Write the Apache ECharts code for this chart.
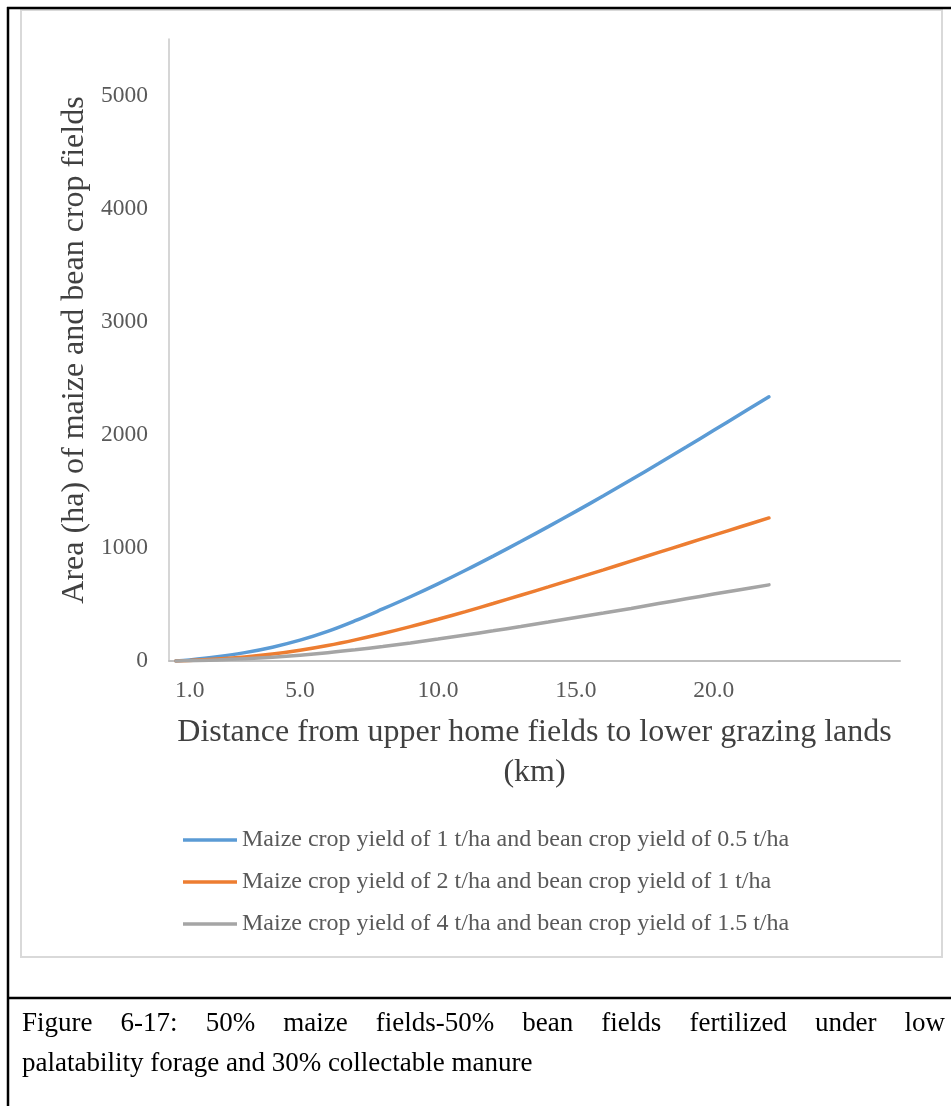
<!DOCTYPE html>
<html>
<head>
<meta charset="utf-8">
<script src="https://cdn.jsdelivr.net/npm/echarts@6/dist/echarts.min.js"></script>
<style>
html,body{margin:0;padding:0;background:#fff;}
#chart{width:951px;height:1106px;}
</style>
</head>
<body>
<div id="chart"></div>
<script>
// ---- data ----
const distances = [0.5,1,2,3,4,5,6,7,8,9,10,11,12,13,14,15,16,17,18,19,20,21,22];
const yieldLow  = [0,10,38,74,122,184,262,356,460,568,682,802,927,1056,1188,1323,1461,1602,1746,1892,2040,2188,2336];
const yieldMid  = [0,5,17,35,61,95,137,187,243,304,369,437,508,581,655,730,806,883,960,1037,1113,1189,1265];
const yieldHigh = [0,3,9,19,33,51,73,99,128,160,194,230,267,305,344,384,424,465,508,550,592,633,673];
const seriesNames = [
  'Maize crop yield of 1 t/ha and bean crop yield of 0.5 t/ha',
  'Maize crop yield of 2 t/ha and bean crop yield of 1 t/ha',
  'Maize crop yield of 4 t/ha and bean crop yield of 1.5 t/ha'
];
const xTickLabels = [1, 5, 10, 15, 20];
const yTickLabels = [0, 1000, 2000, 3000, 4000, 5000];
const xAxisTitle = 'Distance from upper home fields to lower grazing lands\n(km)';
const yAxisTitle = 'Area (ha) of maize and bean crop fields';
const captionLine1 = 'Figure 6-17: 50% maize fields-50% bean fields fertilized under low';
const captionLine2 = 'palatability forage and 30% collectable manure';

const FONT = '"Liberation Serif","Times New Roman",serif';
const colors = ['#5B9BD5', '#ED7D31', '#A5A5A5'];

function pairs(ys){ return distances.map((d,i)=>[d, ys[i]]); }

// caption layout (justified first line)
const capSize = 27;
const capLeft = 22, capRight = 945;
const cv = document.createElement('canvas').getContext('2d');
cv.font = capSize + 'px ' + FONT;
const words = captionLine1.split(' ');
const widths = words.map(w => cv.measureText(w).width);
const totalW = widths.reduce((a,b)=>a+b,0);
const gap = (capRight - capLeft - totalW) / (words.length - 1);
const captionEls = [];
let cx = capLeft;
words.forEach((w,i)=>{
  captionEls.push({type:'text', x: cx, y: 1024, z: 10,
    style:{text:w, font: capSize+'px '+FONT, fill:'#000', textAlign:'left', textVerticalAlign:'middle', verticalAlign:'middle'}});
  cx += widths[i] + gap;
});
captionEls.push({type:'text', x: capLeft, y: 1064, z: 10,
  style:{text:captionLine2, font: capSize+'px '+FONT, fill:'#000', textAlign:'left', textVerticalAlign:'middle', verticalAlign:'middle'}});

const chart = echarts.init(document.getElementById('chart'), null, {renderer:'canvas'});
chart.setOption({
  backgroundColor:'#fff',
  animation:false,
  color: colors,
  grid:{left:169, top:39, right:51, bottom:445, containLabel:false},
  xAxis:{
    type:'value', min:0.25, max:26.75, interval:0.25,
    name: xAxisTitle, nameLocation:'middle', nameGap:52,
    nameTextStyle:{fontFamily:FONT, fontSize:32, color:'#404040', lineHeight:40},
    axisLine:{show:true, lineStyle:{color:'#bfbfbf', width:2}},
    axisTick:{show:false},
    splitLine:{show:false},
    axisLabel:{
      fontFamily:FONT, fontSize:23.5, color:'#595959', margin:18,
      formatter: v => xTickLabels.indexOf(Math.round(v*100)/100) >= 0 ? v.toFixed(1) : ''
    }
  },
  yAxis:{
    type:'value', min:0, max:5500, interval:1000,
    name: yAxisTitle, nameLocation:'middle', nameGap:70, nameRotate:90,
    nameTextStyle:{fontFamily:FONT, fontSize:32, color:'#404040'},
    axisLine:{show:true, lineStyle:{color:'#c8c8c8', width:1.5}},
    axisTick:{show:false},
    splitLine:{show:false},
    axisLabel:{
      fontFamily:FONT, fontSize:23.5, color:'#595959', margin:21,
      formatter: v => yTickLabels.indexOf(v) >= 0 ? String(v) : ''
    }
  },
  legend:{
    orient:'vertical', left:183, top:828, padding:0,
    icon:'rect', itemWidth:54, itemHeight:3.5, itemGap:18,
    textStyle:{fontFamily:FONT, fontSize:24, color:'#595959', lineHeight:24},
    data: seriesNames
  },
  series:[yieldLow, yieldMid, yieldHigh].map((ys,i)=>({
    name: seriesNames[i], type:'line', data: pairs(ys),
    symbol:'none', smooth:0.4,
    lineStyle:{width:3.5, color:colors[i], cap:'round'},
    itemStyle:{color:colors[i]}
  })),
  graphic:{elements:[
    {type:'rect', shape:{x:21, y:10, width:921, height:947}, z:-1,
      style:{fill:'none', stroke:'#d9d9d9', lineWidth:2}},
    {type:'line', shape:{x1:7, y1:8, x2:951, y2:8}, style:{stroke:'#000', lineWidth:2.5}},
    {type:'line', shape:{x1:8, y1:7, x2:8, y2:1106}, style:{stroke:'#000', lineWidth:2.5}},
    {type:'line', shape:{x1:7, y1:998, x2:951, y2:998}, style:{stroke:'#000', lineWidth:2.5}}
  ].concat(captionEls)}
});
</script>
</body>
</html>
